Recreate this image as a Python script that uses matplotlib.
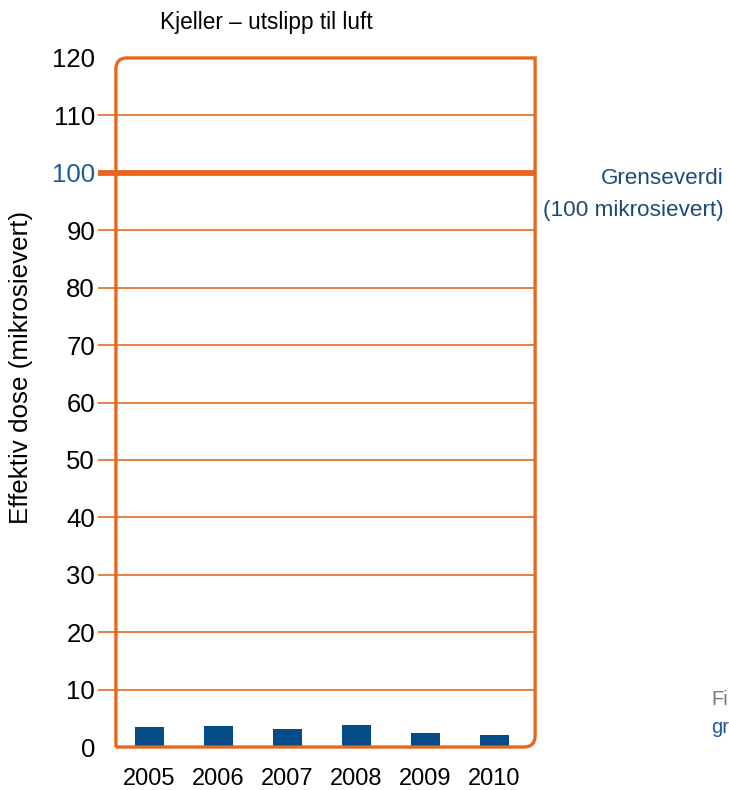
import numpy as np
import matplotlib
matplotlib.use("Agg")
import matplotlib.pyplot as plt
from matplotlib.path import Path
from matplotlib.patches import PathPatch

plt.rcParams["font.family"] = ["Liberation Sans", "DejaVu Sans"]

ORANGE = "#e8661f"
BLUE = "#044c87"
TEXTBLUE = "#1c4a78"

years = ["2005", "2006", "2007", "2008", "2009", "2010"]
dose = [3.5, 3.7, 3.1, 3.8, 2.4, 2.1]
yticks = [0, 10, 20, 30, 40, 50, 60, 70, 80, 90, 100, 110, 120]
limit = 100

fig = plt.figure(figsize=(7.29, 7.90), dpi=100)
ax = fig.add_axes([0.159, 0.0544, 0.575, 0.8722])

x = np.arange(len(years))
ax.bar(x, dose, width=0.42, color=BLUE, zorder=3)
ax.set_xlim(-0.486, 5.59)
ax.set_ylim(0, 120)

# gridlines stick out past the left border and double as tick marks
trans = ax.get_yaxis_transform()
for t in yticks[1:-1]:
    lw = 4.2 if t == limit else 1.2
    ax.plot([-0.043, 1.0], [t, t], color=ORANGE, lw=lw, transform=trans,
            clip_on=False, zorder=2, solid_capstyle="butt")

for s in ax.spines.values():
    s.set_visible(False)

# frame: rounded top-left and bottom-right corners
rx, ry = 0.026, 0.016
verts = [
    (0, 0), (0, 1 - ry),
    (0, 1), (rx, 1),
    (1, 1), (1, ry),
    (1, 0), (1 - rx, 0),
    (0, 0),
]
codes = [Path.MOVETO, Path.LINETO, Path.CURVE3, Path.CURVE3,
         Path.LINETO, Path.LINETO, Path.CURVE3, Path.CURVE3, Path.LINETO]
ax.add_patch(PathPatch(Path(verts, codes), transform=ax.transAxes,
                       fill=False, edgecolor=ORANGE, lw=2.4, clip_on=False,
                       zorder=4))

ax.set_xticks(x)
ax.set_xticklabels(years, fontsize=17)
ax.tick_params(axis="x", length=0, pad=15)
ax.set_yticks(yticks)
ax.set_yticklabels([str(t) for t in yticks], fontsize=18.5)
ax.tick_params(axis="y", length=0, pad=15)
for lab in ax.get_yticklabels():
    if lab.get_text() == str(limit):
        lab.set_color("#1f5a96")

fig.text(0.365, 0.972, "Kjeller \u2013 utslipp til luft", fontsize=16.3,
         ha="center", va="center")
fig.text(0.029, 0.535, "Effektiv dose (mikrosievert)", fontsize=18.7,
         rotation=90, ha="center", va="center")
fig.text(0.992, 0.774, "Grenseverdi", fontsize=16.2, color=TEXTBLUE,
         ha="right", va="center")
fig.text(0.992, 0.733, "(100 mikrosievert)", fontsize=16.2, color=TEXTBLUE,
         ha="right", va="center")
fig.text(0.976, 0.115, "Fi", fontsize=14.5, color="#777777", ha="left", va="center")
fig.text(0.976, 0.079, "gr", fontsize=14.5, color="#1f5a96", ha="left", va="center")

fig.savefig("out.png", dpi=100)
